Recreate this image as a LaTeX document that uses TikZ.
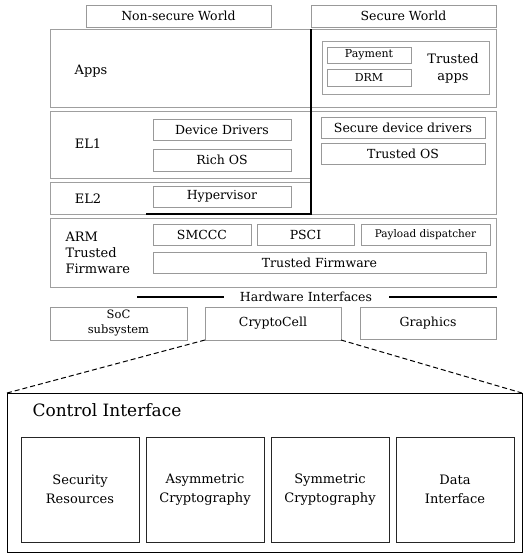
\documentclass[tikz,border=0pt]{standalone}
\usepackage{fontspec}
\setmainfont{DejaVu Serif}
\begin{document}
\begin{tikzpicture}[x=1pt, y=-1pt,
        panel/.style={draw=gray!75, line width=0.8pt, inner sep=0pt, outer sep=0pt},
        box/.style={draw=gray!80, line width=0.8pt, inner sep=0pt, outer sep=0pt, font=\fontsize{12.5}{14}\selectfont},
        block/.style={draw=black!85, line width=0.9pt, inner sep=0pt, outer sep=0pt, minimum width=118pt, minimum height=105pt, align=center, font=\fontsize{13}{19}\selectfont},
        lbl/.style={font=\fontsize{13}{17}\selectfont, align=center}]
    \useasboundingbox (0,0) rectangle (523,554);
    % worlds
    \node[box, minimum width=185pt, minimum height=22pt] (nsw) at (178.5,16) {Non-secure World};
    \node[box, minimum width=185pt, minimum height=22pt] (sw) at (403.5,16) {Secure World};
    % apps layer
    \node[panel, minimum width=446pt, minimum height=78pt] (apps) at (273,68) {};
    \node[lbl] (appslbl) at (91,71) {Apps};
    \node[panel, minimum width=167pt, minimum height=53pt] (tapps) at (405.5,67.5) {};
    \node[box, minimum width=84pt, minimum height=16pt, font=\fontsize{11}{12}\selectfont] (pay) at (369,55) {Payment};
    \node[box, minimum width=84pt, minimum height=17pt, font=\fontsize{11}{12}\selectfont] (drm) at (369,77.5) {DRM};
    \node[lbl] (tappslbl) at (453,68) {Trusted\\apps};
    % exception levels
    \node[panel, minimum width=261pt, minimum height=67pt] (el1) at (180.5,144.5) {};
    \node[panel, minimum width=261pt, minimum height=32pt] (el2) at (180.5,198) {};
    \node[panel, minimum width=185pt, minimum height=103pt] (sel) at (403.5,162.5) {};
    \node[lbl] (el1lbl) at (88,144) {EL1};
    \node[lbl] (el2lbl) at (88,199) {EL2};
    \node[box, minimum width=138pt, minimum height=21pt] (devdrv) at (222,129.5) {Device Drivers};
    \node[box, minimum width=138pt, minimum height=22pt] (richos) at (222,160) {Rich OS};
    \node[box, minimum width=138pt, minimum height=21pt] (hyp) at (222,196.5) {Hypervisor};
    \node[box, minimum width=164pt, minimum height=21pt] (secdrv) at (403,127.5) {Secure device drivers};
    \node[box, minimum width=164pt, minimum height=21pt] (tos) at (403,153.5) {Trusted OS};
    \coordinate (wtop) at (sw.south west |- apps.north);
    \coordinate (wcorner) at (sw.south west |- el2.south);
    \coordinate (wend) at ([xshift=-7pt]hyp.west |- el2.south);
    \draw[line width=2.2pt] (wtop) -- (wcorner) -- (wend);
    % firmware
    \node[panel, minimum width=446pt, minimum height=69pt] (atf) at (273,252.5) {};
    \node[lbl, align=left, anchor=west, font=\fontsize{13}{16}\selectfont] (atflbl) at (62,253) {ARM\\Trusted\\Firmware};
    \node[box, minimum width=98pt, minimum height=21pt] (smccc) at (202,234.5) {SMCCC};
    \node[box, minimum width=97pt, minimum height=21pt] (psci) at (305.5,234.5) {PSCI};
    \node[box, minimum width=129pt, minimum height=21pt, font=\fontsize{10.5}{12}\selectfont] (pd) at (425.5,234.5) {Payload dispatcher};
    \node[box, minimum width=333pt, minimum height=21pt] (tfw) at (319.5,262.5) {Trusted Firmware};
    % hardware
    \node[lbl, font=\fontsize{12.5}{14}\selectfont] (hwif) at (306,297) {Hardware Interfaces};
    \coordinate (hwl) at (137,297);
    \coordinate (hwlend) at (224,297);
    \coordinate (hwrend) at (389,297);
    \coordinate (hwr) at (497,297);
    \draw[line width=1.2pt] (hwl) -- (hwlend);
    \draw[line width=1.2pt] (hwrend) -- (hwr);
    \node[box, minimum width=137pt, minimum height=33pt, align=center, font=\fontsize{11.5}{15}\selectfont] (soc) at (118.5,323.5) {SoC\\subsystem};
    \node[box, minimum width=136pt, minimum height=33pt] (crypto) at (273,323.5) {CryptoCell};
    \node[box, minimum width=136pt, minimum height=32pt] (gfx) at (428,323) {Graphics};
    % cryptocell detail
    \node[draw, line width=1pt, inner sep=0pt, outer sep=0pt, minimum width=515pt, minimum height=159pt] (ctrl) at (264.5,472.5) {};
    \node[anchor=west, font=\fontsize{17}{20}\selectfont] (ctrllbl) at (29,410) {Control Interface};
    \draw[dashed, line width=1pt, dash pattern=on 5pt off 3pt] (crypto.south west) -- (ctrl.north west);
    \draw[dashed, line width=1pt, dash pattern=on 5pt off 3pt] (crypto.south east) -- (ctrl.north east);
    \node[block] (secres) at (80,489.5) {Security\\Resources};
    \node[block] (asym) at (205,489.5) {Asymmetric\\Cryptography};
    \node[block] (sym) at (330,489.5) {Symmetric\\Cryptography};
    \node[block] (data) at (455,489.5) {Data\\Interface};
\end{tikzpicture}
\end{document}
